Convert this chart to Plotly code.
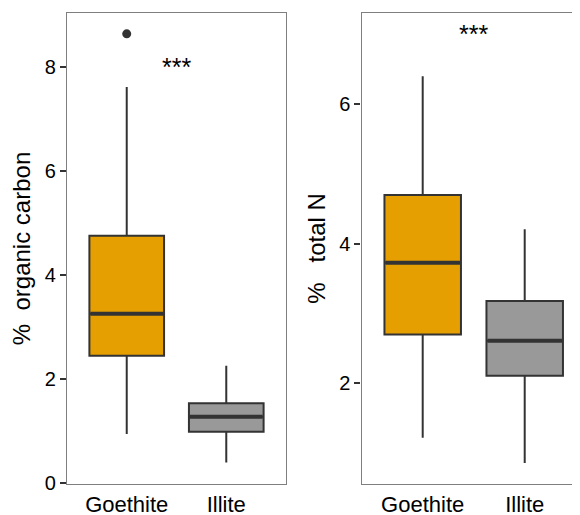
import plotly.graph_objects as go

# ---- data ----
categories = ["Goethite", "Illite"]
colors = ["#E69F00", "#999999"]

# % organic carbon
oc_lower = [0.95, 0.40]
oc_q1 = [2.45, 0.99]
oc_median = [3.26, 1.28]
oc_q3 = [4.76, 1.54]
oc_upper = [7.62, 2.26]
oc_outlier_cat = ["Goethite"]
oc_outlier_val = [8.64]
oc_sig = "***"
oc_sig_y = 8.0

# % total N
tn_lower = [1.22, 0.86]
tn_q1 = [2.70, 2.11]
tn_median = [3.73, 2.61]
tn_q3 = [4.70, 3.18]
tn_upper = [6.40, 4.21]
tn_sig = "***"
tn_sig_y = 7.0

oc_ticks = [0, 2, 4, 6, 8]
tn_ticks = [2, 4, 6]

# ---- style ----
FONT = "Liberation Sans, Arial, sans-serif"
BOXW = 0.75
LINE = "#333333"
FRAME = "#7f7f7f"
W, H = 572, 507   # page body has an 8px margin in the 580x515 window
OFF = 8

fig = go.Figure()
pos = {c: i + 1 for i, c in enumerate(categories)}


def add_panel(lower, q1, med, q3, upper, xa, ya):
    for i, c in enumerate(categories):
        fig.add_trace(go.Box(
            x=[pos[c]], q1=[q1[i]], median=[med[i]], q3=[q3[i]],
            lowerfence=[lower[i]], upperfence=[upper[i]],
            width=BOXW, fillcolor=colors[i],
            line=dict(color=LINE, width=2), whiskerwidth=0,
            boxpoints=False, showlegend=False, hoverinfo="skip",
            xaxis=xa, yaxis=ya))
        # thicker median line
        fig.add_trace(go.Scatter(
            x=[pos[c] - BOXW / 2 + 0.01, pos[c] + BOXW / 2 - 0.01],
            y=[med[i], med[i]], mode="lines",
            line=dict(color=LINE, width=4), showlegend=False,
            hoverinfo="skip", xaxis=xa, yaxis=ya))


add_panel(oc_lower, oc_q1, oc_median, oc_q3, oc_upper, "x", "y")
fig.add_trace(go.Scatter(
    x=[pos[c] for c in oc_outlier_cat], y=oc_outlier_val, mode="markers",
    marker=dict(color=LINE, size=9), showlegend=False, hoverinfo="skip",
    xaxis="x", yaxis="y"))
add_panel(tn_lower, tn_q1, tn_median, tn_q3, tn_upper, "x2", "y2")

fig.add_annotation(x=1.5, y=oc_sig_y, xref="x", yref="y", text=oc_sig,
                   showarrow=False, font=dict(size=25, color="black", family=FONT))
fig.add_annotation(x=1.5, y=tn_sig_y, xref="x2", yref="y2", text=tn_sig,
                   showarrow=False, font=dict(size=25, color="black", family=FONT))

xcommon = dict(tickmode="array", tickvals=[1, 2], ticktext=categories,
               showline=True, linecolor=FRAME, linewidth=1.3, mirror=True,
               ticks="",
               showgrid=False, zeroline=False, automargin=False,
               tickfont=dict(size=22, color="black", family=FONT))
ycommon = dict(showline=True, linecolor=FRAME, linewidth=1.3,
               ticks="outside", ticklen=6, tickwidth=1.5, tickcolor=LINE,
               showgrid=False, zeroline=False, automargin=False,
               tickfont=dict(size=20, color="black", family=FONT),
               title_font=dict(size=24, color="black", family=FONT))

fig.update_layout(
    width=W, height=H,
    margin=dict(l=0, r=0, t=13 - OFF, b=31),
    plot_bgcolor="white", paper_bgcolor="white",
    xaxis=dict(domain=[(67 - OFF) / W, (286 - OFF) / W], range=[0.4, 2.6],
               anchor="y", **xcommon),
    yaxis=dict(range=[-0.013, 9.04], tickvals=oc_ticks, anchor="x", mirror=True,
               title=dict(text="%\u00a0\u00a0organic carbon", standoff=14), **ycommon),
    xaxis2=dict(domain=[(361.5 - OFF) / W, 1.0], range=[0.4, 2.542],
                anchor="y2", **xcommon),
    yaxis2=dict(range=[0.559, 7.307], tickvals=tn_ticks, anchor="x2", mirror=False,
                title=dict(text="%\u00a0\u00a0\u00a0total N", standoff=6), **ycommon),
)

fig.write_html("out.html")
